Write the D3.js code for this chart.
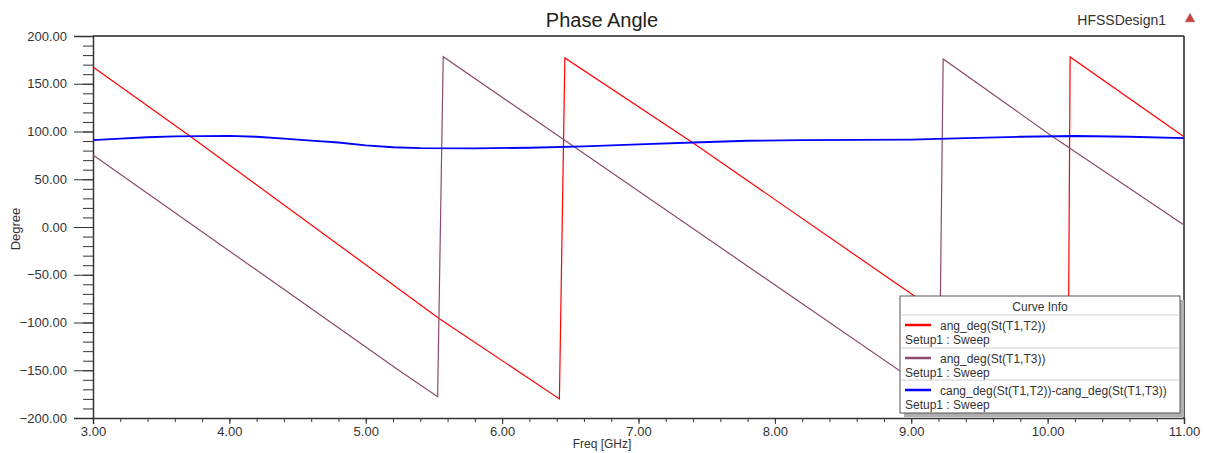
<!DOCTYPE html>
<html>
<head>
<meta charset="utf-8">
<script src="https://cdn.jsdelivr.net/npm/d3@7"></script>
<style>
  body { margin: 0; background: #fff; }
  svg { font-family: "Liberation Sans", Arial, sans-serif; }
  .axis text { fill: #333; font-size: 13px; }
  .axis path, .axis line { stroke: #333; }
</style>
</head>
<body>
<svg></svg>
<script>
// Data
const redFreq = [3.00, 3.71, 5.54, 6.42, 6.46, 7.39, 9.01, 10.15, 10.165, 11.00];
const redDeg  = [167.5, 95.3, -96, -180, 177, 89, -71, -180, 178, 94.6];

const purpleFreq = [3.00, 5.25, 5.527, 5.568, 6.52, 9.205, 9.234, 10.03, 11.00];
const purpleDeg  = [75.4, -150.8, -177.7, 178.3, 84.8, -179, 176, 95.3, 2];

const blueFreq = [3.0, 3.2, 3.4, 3.6, 4.0, 4.2, 4.4, 4.6, 4.8, 5.0, 5.2, 5.4, 5.8, 6.2, 6.6, 7.0, 7.4, 7.8, 8.2, 8.6, 9.0, 9.4, 9.8, 10.2, 10.6, 11.0];
const blueDeg  = [91, 92.5, 94, 95, 95.5, 94.5, 92.5, 90.5, 88.5, 85.5, 83.5, 82.5, 82.3, 83, 84.5, 86.5, 88.5, 90.3, 91, 91.2, 91.5, 93, 94.5, 95.3, 94.5, 93];

const xTicks = [3, 4, 5, 6, 7, 8, 9, 10, 11];
const yTicks = [-200, -150, -100, -50, 0, 50, 100, 150, 200];

const legendNames = ["ang_deg(St(T1,T2))", "ang_deg(St(T1,T3))", "cang_deg(St(T1,T2))-cang_deg(St(T1,T3))"];
const colors = ["#ff0000", "#8b4a6e", "#0000ff"];

// Sizes
const W = 1205, H = 453;
const margin = { t: 36, b: 35, l: 93, r: 21 };
const width = W - margin.l - margin.r;
const height = H - margin.t - margin.b;

const root = d3.select("svg").attr("width", W).attr("height", H);
const svg = root.append("g").attr("transform", `translate(${margin.l}, ${margin.t})`);

// Scales
const xScale = d3.scaleLinear().domain([3, 11]).range([0, width]);
const yScale = d3.scaleLinear().domain([-200, 200]).range([height, 0]);

// minor ticks
svg.append("g")
  .attr("class", "axis")
  .call(d3.axisLeft(yScale).tickValues(d3.range(-200, 201, 10)).tickSize(10).tickFormat(""))
  .call(g => g.select(".domain").remove());

svg.append("g")
  .attr("class", "axis")
  .attr("transform", `translate(0, ${height})`)
  .call(d3.axisBottom(xScale).tickValues(d3.range(3, 11.01, 0.2)).tickSize(4).tickFormat(""))
  .call(g => g.select(".domain").remove());

// major axes
svg.append("g")
  .attr("class", "axis")
  .call(d3.axisLeft(yScale).tickValues(yTicks).tickSize(19).tickPadding(7).tickFormat(d3.format(".2f")))
  .call(g => g.select(".domain").attr("stroke-width", 1.5));

svg.append("g")
  .attr("class", "axis")
  .attr("transform", `translate(0, ${height})`)
  .call(d3.axisBottom(xScale).tickValues(xTicks).tickSize(6).tickPadding(3).tickFormat(d3.format(".2f")))
  .call(g => g.select(".domain").attr("stroke-width", 1.5));

// top and right border
svg.append("line").attr("x1", 0).attr("x2", width).attr("y1", 0).attr("y2", 0)
  .attr("stroke", "#222").attr("stroke-width", 1.5);
svg.append("line").attr("x1", width).attr("x2", width).attr("y1", 0).attr("y2", height)
  .attr("stroke", "#222").attr("stroke-width", 1.5);

// curves
const line = d3.line().x(d => xScale(d[0])).y(d => yScale(d[1]));
const series = [
  { f: redFreq, v: redDeg, w: 1.2 },
  { f: purpleFreq, v: purpleDeg, w: 1.2 },
  { f: blueFreq, v: blueDeg, w: 1.8 }
];
series.forEach((s, i) => {
  svg.append("path")
    .datum(s.f.map((f, j) => [f, s.v[j]]))
    .attr("fill", "none")
    .attr("stroke", colors[i])
    .attr("stroke-width", s.w)
    .attr("d", line);
});

// titles
root.append("text").attr("x", 602).attr("y", 27).attr("text-anchor", "middle")
  .attr("font-size", 20).attr("fill", "#222").text("Phase Angle");
root.append("text").attr("x", 1166).attr("y", 25).attr("text-anchor", "end")
  .attr("font-size", 14).attr("fill", "#333").text("HFSSDesign1");
root.append("path").attr("d", "M1190,13 L1195,22 L1185,22 Z").attr("fill", "#d04040").attr("stroke", "#a0a0a0").attr("stroke-width", 0.6);
root.append("text").attr("x", 602).attr("y", 448).attr("text-anchor", "middle")
  .attr("font-size", 12).attr("fill", "#333").text("Freq [GHz]");
root.append("text").attr("transform", "translate(20, 229) rotate(-90)").attr("text-anchor", "middle")
  .attr("font-size", 13).attr("fill", "#333").text("Degree");

// legend
const lg = root.append("g").attr("transform", "translate(900, 296)");
const lw = 280, lh = 117;
lg.append("rect").attr("x", 4).attr("y", 4).attr("width", lw).attr("height", lh).attr("fill", "#b0b0b0");
lg.append("rect").attr("width", lw).attr("height", lh).attr("fill", "#fff").attr("stroke", "#555");
lg.append("text").attr("x", lw / 2).attr("y", 15).attr("text-anchor", "middle")
  .attr("font-size", 12).attr("fill", "#333").text("Curve Info");
const rowTop = [19, 52, 84];
rowTop.forEach((y, i) => {
  lg.append("line").attr("x1", 1).attr("x2", lw - 1).attr("y1", y).attr("y2", y).attr("stroke", "#d0d0d0");
  lg.append("line").attr("x1", 5).attr("x2", 31).attr("y1", y + 10).attr("y2", y + 10)
    .attr("stroke", colors[i]).attr("stroke-width", 2.5);
  lg.append("text").attr("x", 40).attr("y", y + 15).attr("font-size", 12).attr("fill", "#333").text(legendNames[i]);
  lg.append("text").attr("x", 5).attr("y", y + 29).attr("font-size", 12).attr("fill", "#333").text("Setup1 : Sweep");
});
</script>
</body>
</html>
